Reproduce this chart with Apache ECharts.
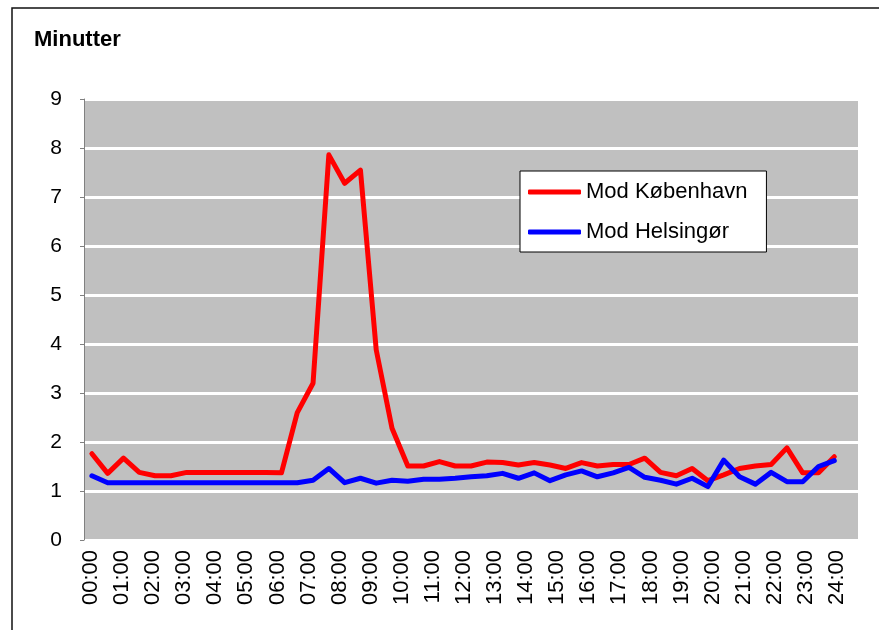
<!DOCTYPE html>
<html>
<head>
<meta charset="utf-8">
<script src="https://cdn.jsdelivr.net/npm/echarts@6/dist/echarts.min.js"></script>
<style>
  html, body { margin: 0; padding: 0; background: #fff; }
  #chart { width: 879px; height: 630px; }
</style>
</head>
<body>
<div id="chart"></div>
<script>
// half-hour categories the data sits on
var halfHours = ['00:00','00:30','01:00','01:30','02:00','02:30','03:00','03:30','04:00','04:30',
  '05:00','05:30','06:00','06:30','07:00','07:30','08:00','08:30','09:00','09:30',
  '10:00','10:30','11:00','11:30','12:00','12:30','13:00','13:30','14:00','14:30',
  '15:00','15:30','16:00','16:30','17:00','17:30','18:00','18:30','19:00','19:30',
  '20:00','20:30','21:00','21:30','22:00','22:30','23:00','23:30','24:00'];

// hour tick labels on the x axis
var hourLabels = ['00:00','01:00','02:00','03:00','04:00','05:00','06:00','07:00','08:00','09:00',
  '10:00','11:00','12:00','13:00','14:00','15:00','16:00','17:00','18:00','19:00',
  '20:00','21:00','22:00','23:00','24:00'];

var yTicks = [0, 9, 1]; // min, max, step

// minutter, mod København
var modKobenhavn = [1.76, 1.36, 1.67, 1.38, 1.31, 1.31, 1.38, 1.38, 1.38, 1.38, 1.38, 1.38,
  1.37, 2.6, 3.2, 7.86, 7.28, 7.55, 3.88, 2.28, 1.51, 1.51, 1.6, 1.51,
  1.51, 1.59, 1.58, 1.53, 1.58, 1.53, 1.46, 1.58, 1.51, 1.54, 1.54, 1.67,
  1.38, 1.31, 1.46, 1.21, 1.33, 1.46, 1.51, 1.54, 1.88, 1.37, 1.37, 1.7];

// minutter, mod Helsingør
var modHelsingor = [1.31, 1.17, 1.17, 1.17, 1.17, 1.17, 1.17, 1.17, 1.17, 1.17, 1.17, 1.17,
  1.17, 1.17, 1.22, 1.46, 1.17, 1.26, 1.16, 1.22, 1.2, 1.24, 1.24, 1.26,
  1.29, 1.31, 1.36, 1.26, 1.37, 1.21, 1.33, 1.41, 1.29, 1.37, 1.48, 1.28,
  1.22, 1.14, 1.26, 1.09, 1.63, 1.29, 1.14, 1.38, 1.19, 1.19, 1.5, 1.62];

var font = 'Liberation Sans, Arial, sans-serif';

var chart = echarts.init(document.getElementById('chart'));
chart.setOption({
  animation: false,
  backgroundColor: '#fff',
  title: {
    text: 'Minutter',
    left: 34,
    top: 29,
    padding: 0,
    textStyle: { fontFamily: font, fontSize: 22, fontWeight: 'bold', color: '#000' }
  },
  legend: {
    data: ['Mod København', 'Mod Helsingør'],
    orient: 'vertical',
    left: 520,
    top: 171,
    padding: [10, 19, 9, 8],
    itemGap: 18,
    itemWidth: 53,
    itemHeight: 5,
    icon: 'roundRect',
    backgroundColor: '#fff',
    borderColor: '#000',
    borderWidth: 1,
    textStyle: { fontFamily: font, fontSize: 22, color: '#000' }
  },
  graphic: [{
    type: 'rect',
    shape: { x: 12, y: 8, width: 900, height: 700 },
    style: { fill: 'none', stroke: '#111', lineWidth: 1.5 },
    silent: true
  }],
  grid: [
    { left: 84, right: 21, top: 99, bottom: 90, show: true, backgroundColor: '#C0C0C0', borderWidth: 0 },
    { left: 91, width: 746, top: 99, bottom: 90, show: false }
  ],
  xAxis: [{
    gridIndex: 0,
    type: 'category',
    data: halfHours,
    boundaryGap: true,
    axisLine: { show: false },
    axisTick: { show: false },
    axisLabel: { show: false },
    splitLine: { show: false }
  }, {
    gridIndex: 1,
    type: 'category',
    data: hourLabels,
    boundaryGap: false,
    axisLine: { show: false },
    axisTick: { show: false },
    splitLine: { show: false },
    axisLabel: { rotate: 90, interval: 0, margin: 10, fontFamily: font, fontSize: 22, color: '#000' }
  }],
  yAxis: [{
    gridIndex: 0,
    type: 'value',
    min: yTicks[0],
    max: yTicks[1],
    interval: yTicks[2],
    axisLine: { show: true, lineStyle: { color: '#808080', width: 1 } },
    axisTick: { show: true, length: 4, lineStyle: { color: '#808080' } },
    axisLabel: { margin: 22, fontFamily: font, fontSize: 21, color: '#000' },
    splitLine: { show: true, lineStyle: { color: '#fff', width: 3 } }
  }, {
    gridIndex: 1,
    type: 'value',
    min: yTicks[0],
    max: yTicks[1],
    show: false
  }],
  series: [{
    name: 'Mod København',
    type: 'line',
    xAxisIndex: 0,
    yAxisIndex: 0,
    data: modKobenhavn,
    symbol: 'none',
    color: '#FF0000',
    lineStyle: { color: '#FF0000', width: 5, cap: 'round', join: 'round' }
  }, {
    name: 'Mod Helsingør',
    type: 'line',
    xAxisIndex: 0,
    yAxisIndex: 0,
    data: modHelsingor,
    symbol: 'none',
    color: '#0000FF',
    lineStyle: { color: '#0000FF', width: 5, cap: 'round', join: 'round' }
  }]
});
</script>
</body>
</html>
